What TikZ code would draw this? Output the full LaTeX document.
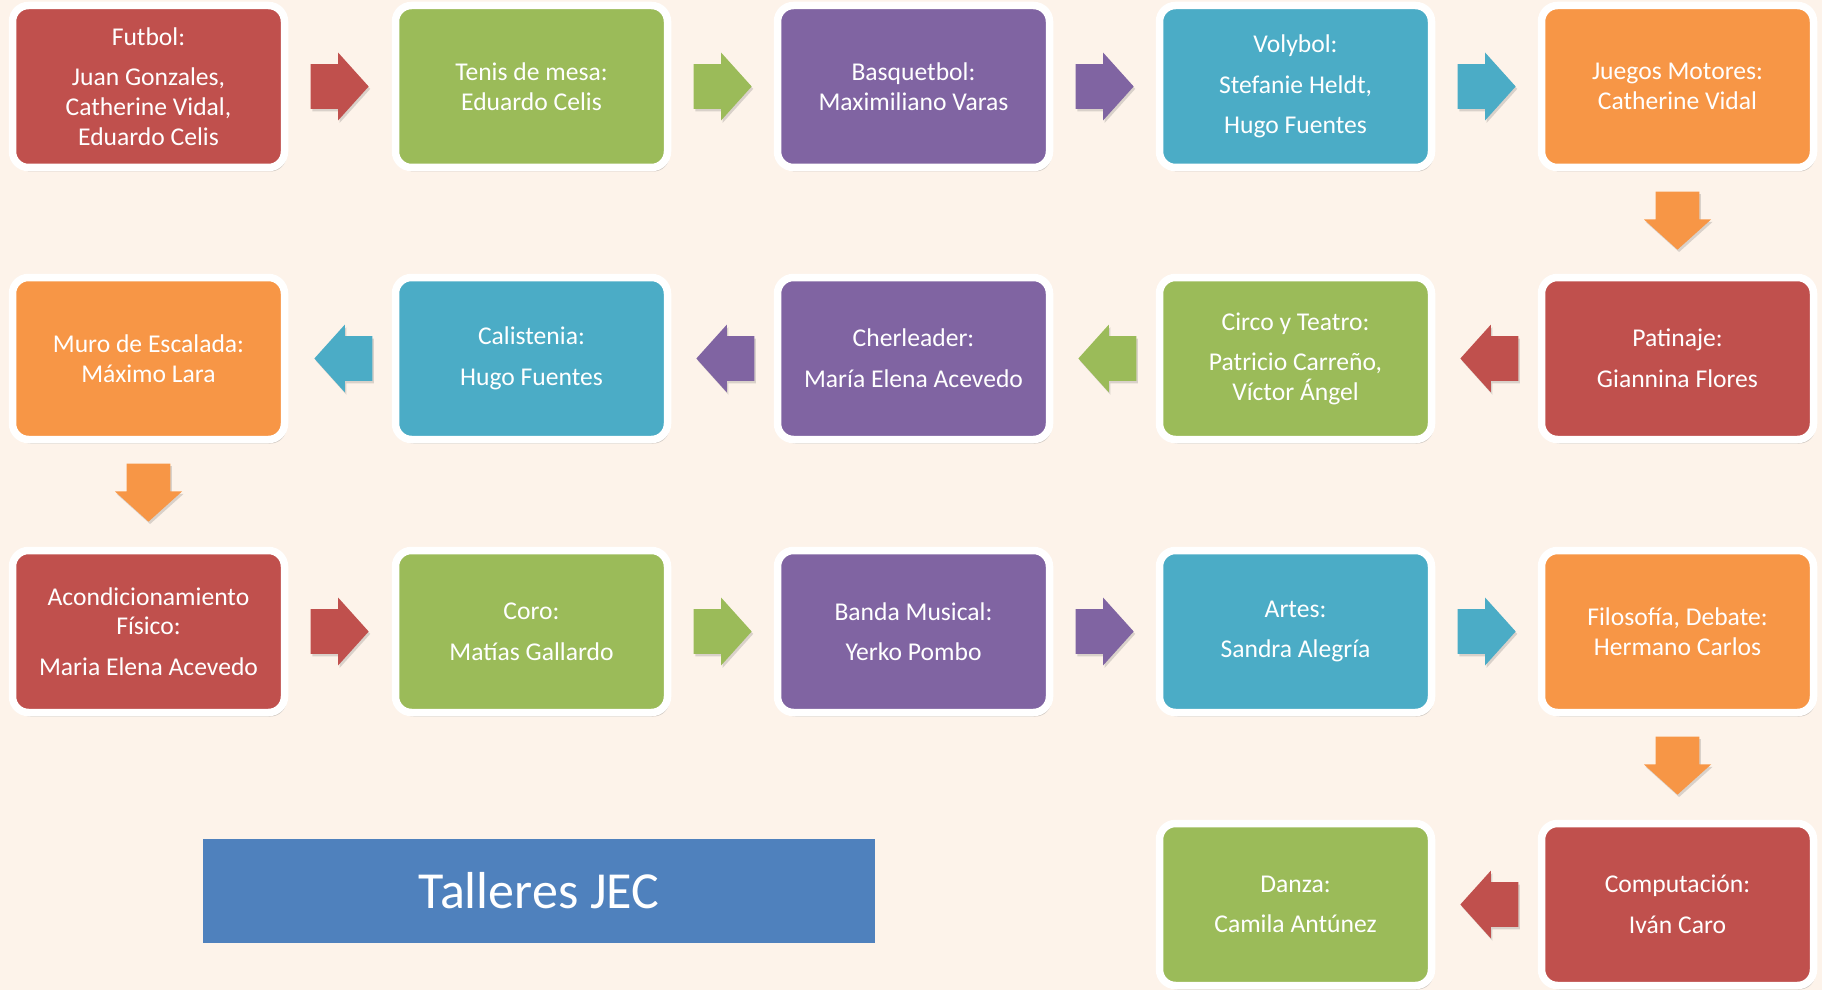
\documentclass[tikz,border=0pt]{standalone}
\usepackage{fontspec}
\setmainfont{Carlito}
\usetikzlibrary{shapes.arrows,shadows,calc}
\definecolor{cred}{HTML}{C0504D}
\definecolor{cgreen}{HTML}{9BBB59}
\definecolor{cpurple}{HTML}{8064A2}
\definecolor{caqua}{HTML}{4BACC6}
\definecolor{corange}{HTML}{F79646}
\definecolor{cblue}{HTML}{4F81BD}
\definecolor{bgc}{HTML}{FDF3EA}
\begin{document}
\begin{tikzpicture}[x=0.5pt,y=-0.5pt,
  box/.style={draw=white, line width=3.75pt, rounded corners=8pt,
    minimum width=136pt, minimum height=81pt, inner sep=0pt,
    text=white, align=center, font=\fontsize{12.8}{14.8}\selectfont,
    drop shadow={shadow xshift=1pt, shadow yshift=-2pt, opacity=0.25, fill=black!70}},
  arr/.style={single arrow, minimum height=29pt, minimum width=33.5pt,
    single arrow head extend=5.75pt, single arrow tip angle=96,
    inner xsep=0pt, inner ysep=11pt, anchor=tail,
    drop shadow={shadow xshift=0.8pt, shadow yshift=-1.2pt, opacity=0.2, fill=black!70}},
  larr/.style={arr, shape border rotate=180},
  darr/.style={arr, shape border rotate=270, inner xsep=10.5pt, inner ysep=0pt},
  title/.style={fill=cblue, minimum width=336pt, minimum height=52pt, inner sep=0pt,
    text=white, font=\fontsize{26}{30}\selectfont}
]
\fill[bgc] (0,0) rectangle (1822,990);

% row 1
\node[box, fill=cred]    (r1c1) at (148.5,86.5)  {Futbol:\\[5.5pt]Juan Gonzales,\\Catherine Vidal,\\Eduardo Celis};
\node[box, fill=cgreen]  (r1c2) at (531.5,86.5)  {Tenis de mesa:\\Eduardo Celis};
\node[box, fill=cpurple] (r1c3) at (913.5,86.5)  {Basquetbol:\\Maximiliano Varas};
\node[box, fill=caqua]   (r1c4) at (1295.5,86.5) {Volybol:\\[5.5pt]Stefanie Heldt,\\[5.5pt]Hugo Fuentes};
\node[box, fill=corange] (r1c5) at (1677.5,86.5) {Juegos Motores:\\Catherine Vidal};
% row 2
\node[box, fill=corange] (r2c1) at (148.5,358.5)  {Muro de Escalada:\\Máximo Lara};
\node[box, fill=caqua]   (r2c2) at (531.5,358.5)  {Calistenia:\\[5.5pt]Hugo Fuentes};
\node[box, fill=cpurple] (r2c3) at (913.5,358.5)  {Cherleader:\\[5.5pt]María Elena Acevedo};
\node[box, fill=cgreen]  (r2c4) at (1295.5,358.5) {Circo y Teatro:\\[5.5pt]Patricio Carreño,\\Víctor Ángel};
\node[box, fill=cred]    (r2c5) at (1677.5,358.5) {Patinaje:\\[5.5pt]Giannina Flores};
% row 3
\node[box, fill=cred]    (r3c1) at (148.5,631.5)  {Acondicionamiento\\Físico:\\[5.5pt]Maria Elena Acevedo};
\node[box, fill=cgreen]  (r3c2) at (531.5,631.5)  {Coro:\\[5.5pt]Matías Gallardo};
\node[box, fill=cpurple] (r3c3) at (913.5,631.5)  {Banda Musical:\\[5.5pt]Yerko Pombo};
\node[box, fill=caqua]   (r3c4) at (1295.5,631.5) {Artes:\\[5.5pt]Sandra Alegría};
\node[box, fill=corange] (r3c5) at (1677.5,631.5) {Filosofía, Debate:\\Hermano Carlos};
% row 4
\node[box, fill=cgreen]  (r4c4) at (1295.5,904.5) {Danza:\\[5.5pt]Camila Antúnez};
\node[box, fill=cred]    (r4c5) at (1677.5,904.5) {Computación:\\[5.5pt]Iván Caro};

% title
\node[title] (tit) at (539,891) {Talleres JEC};

% arrows row 1
\node[arr, fill=cred]    (a11) at ($(r1c1.east)+(22,0)$) {};
\node[arr, fill=cgreen]  (a12) at ($(r1c2.east)+(22,0)$) {};
\node[arr, fill=cpurple] (a13) at ($(r1c3.east)+(22,0)$) {};
\node[arr, fill=caqua]   (a14) at ($(r1c4.east)+(22,0)$) {};
\node[darr, fill=corange] (d1) at ($(r1c5.south)+(0,20)$) {};
% arrows row 2
\node[larr, fill=cred]    (a24) at ($(r2c5.west)+(-19,0)$) {};
\node[larr, fill=cgreen]  (a23) at ($(r2c4.west)+(-19,0)$) {};
\node[larr, fill=cpurple] (a22) at ($(r2c3.west)+(-19,0)$) {};
\node[larr, fill=caqua]   (a21) at ($(r2c2.west)+(-19,0)$) {};
\node[darr, fill=corange] (d2) at ($(r2c1.south)+(0,20)$) {};
% arrows row 3
\node[arr, fill=cred]    (a31) at ($(r3c1.east)+(22,0)$) {};
\node[arr, fill=cgreen]  (a32) at ($(r3c2.east)+(22,0)$) {};
\node[arr, fill=cpurple] (a33) at ($(r3c3.east)+(22,0)$) {};
\node[arr, fill=caqua]   (a34) at ($(r3c4.east)+(22,0)$) {};
\node[darr, fill=corange] (d3) at ($(r3c5.south)+(0,20)$) {};
% arrow row 4
\node[larr, fill=cred]    (a44) at ($(r4c5.west)+(-19,0)$) {};
\end{tikzpicture}
\end{document}
